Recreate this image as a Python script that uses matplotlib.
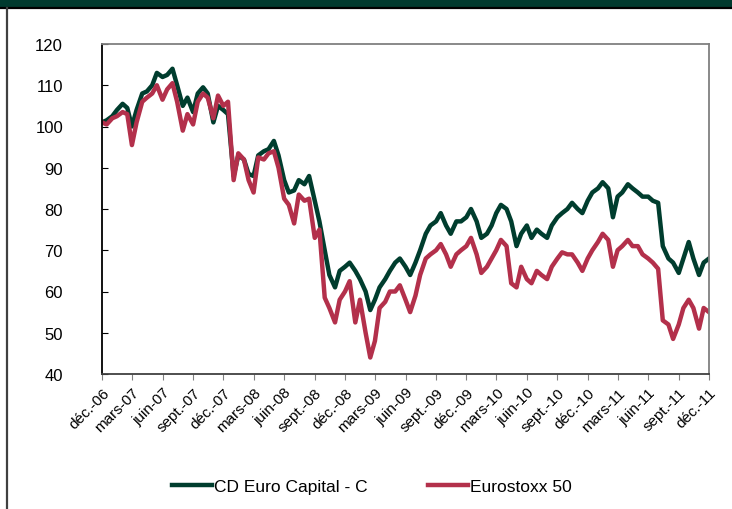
import pandas as pd
import matplotlib
matplotlib.use("Agg")
import matplotlib.pyplot as plt
from matplotlib.lines import Line2D
from matplotlib.patches import Rectangle

plt.rcParams['font.family'] = ['Liberation Sans', 'DejaVu Sans']

# semi-monthly readings, déc. 2006 -> déc. 2011
dates = pd.date_range('2006-12-01', '2011-12-01', freq='SMS')

fund = [101, 101.5, 102.5, 104, 105.5, 104.5, 100, 104, 108, 108.5, 110, 113, 112,
        112.5, 114, 110, 105, 107, 103.5, 108, 109.5, 108, 101, 105, 104, 103,
        88, 93, 92, 88.5, 88, 93, 94, 94.5, 96.5, 93, 87, 84, 84.5, 87, 86, 88,
        82, 77, 70, 64, 61, 65, 66, 67, 65, 63,
        60, 55.5, 58, 61, 63, 65, 67, 68, 66, 64, 67, 70, 74, 76, 77, 79, 76, 74,
        77, 77, 78, 80, 77, 73, 74, 76,
        79, 81, 80, 77, 71, 74, 76, 73, 75, 74, 73, 76, 78, 79, 80, 81.5, 80, 79,
        82, 84, 85, 86.5, 85, 78, 83, 84,
        86, 85, 84, 83, 83, 82, 81.5, 71, 68, 67, 64.5, 68, 72, 68, 64, 67, 68]

index = [101, 100.5, 102, 102.5, 103.5, 103, 95.5, 101, 106, 107, 108, 110, 106.5,
         109, 110.5, 106, 99, 103, 100.5, 106, 108, 107, 102, 107.5, 105, 106,
         87, 93.5, 92, 87, 84, 92.5, 92, 93.5, 94, 90, 82.5, 81, 76.5, 83.5, 82,
         82.5, 73, 75, 58.5, 56, 52.5, 58, 60, 62.5, 52.5, 58,
         50, 44, 48, 56, 57.5, 60, 60, 61.5, 58, 55, 59, 64, 68, 69, 70, 71.5, 69,
         66, 69, 70, 71, 73, 69, 64.5, 66, 68,
         70, 72.5, 71, 62, 61, 66, 63, 62, 65, 64, 63, 66, 68, 69.5, 69, 69, 67, 65,
         68, 70, 72, 74, 72.5, 66, 70, 71,
         72.5, 71, 71, 69, 68, 67, 65.5, 53, 52, 48.5, 52, 56, 58, 56, 51, 56, 55]

tick_dates = pd.date_range('2006-12-01', '2011-12-01', freq='3MS')
tick_labels = ['déc.-06', 'mars-07', 'juin-07', 'sept.-07', 'déc.-07', 'mars-08',
               'juin-08', 'sept.-08', 'déc.-08', 'mars-09', 'juin-09', 'sept.-09',
               'déc.-09', 'mars-10', 'juin-10', 'sept.-10', 'déc.-10', 'mars-11',
               'juin-11', 'sept.-11', 'déc.-11']

green = '#003d2e'
red = '#b3304b'

fig = plt.figure(figsize=(7.32, 5.10), dpi=100)
ax = fig.add_axes([102 / 732, 1 - 375 / 510, 607 / 732, 330 / 510])

ax.plot(dates, fund, color=green, lw=3.2, solid_joinstyle='round')
ax.plot(dates, index, color=red, lw=3.2, solid_joinstyle='round')

ax.set_xlim(dates[0], dates[-1])
ax.set_ylim(40, 120)
ax.set_yticks(range(40, 121, 10))
ax.set_xticks(tick_dates)
ax.set_xticklabels(tick_labels, rotation=45, ha='right', va='top',
                   rotation_mode='anchor', fontsize=11)

ax.tick_params(axis='y', direction='in', length=4, pad=28, labelsize=12)
ax.tick_params(axis='x', direction='out', length=4, color='#808080', pad=4)
ax.spines['left'].set_color('black')
ax.spines['bottom'].set_color('#404040')
for s in ('top', 'right'):
    ax.spines[s].set_color('#808080')
for s in ax.spines.values():
    s.set_linewidth(1.3)

# header band and frame
fig.patches.append(Rectangle((0, 1 - 7.5 / 510), 1, 7.5 / 510, transform=fig.transFigure,
                             color='#003a2e', zorder=0))
fig.lines.append(Line2D([0, 1], [1 - 8.5 / 510] * 2, transform=fig.transFigure,
                        color='black', lw=1.6))
fig.lines.append(Line2D([7 / 732] * 2, [0, 1 - 8.5 / 510], transform=fig.transFigure,
                        color='#404040', lw=1.6))

handles = [Line2D([], [], color=green, lw=3.2), Line2D([], [], color=red, lw=3.2)]
fig.legend(handles, ['CD Euro Capital - C', 'Eurostoxx 50'], loc='center',
           bbox_to_anchor=(372 / 732, 1 - 487 / 510), ncol=2, frameon=False,
           fontsize=12.5, handlelength=2.3, handletextpad=0.1, columnspacing=3.5)

fig.savefig('out.png', dpi=100)
